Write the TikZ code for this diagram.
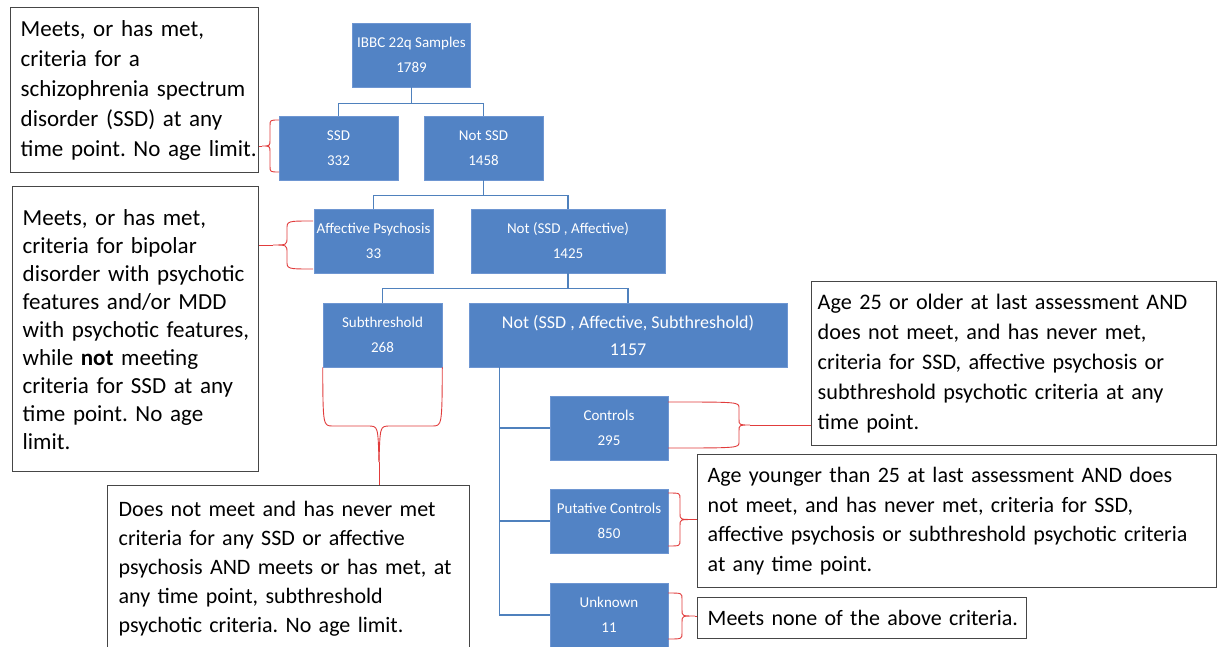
\documentclass[tikz,border=0pt]{standalone}
\usepackage{fontspec}
\usetikzlibrary{calc}
\setmainfont{Carlito}
\frenchspacing
\definecolor{boxblue}{RGB}{82,131,197}
\definecolor{boxedge}{RGB}{110,150,210}
\definecolor{lineblue}{RGB}{79,129,189}
\definecolor{bracered}{RGB}{225,60,60}
\definecolor{notegray}{RGB}{70,70,70}
\newcommand{\vbr}[7]{%
  \draw[redline] (#1,#2) .. controls (#4,#2) .. (#4,{#2+#6})
   -- (#4,{(#2+#3)/2-#6}) .. controls (#4,{(#2+#3)/2}) .. (#5,{(#2+#3)/2}) coordinate (#7)
   .. controls (#4,{(#2+#3)/2}) .. (#4,{(#2+#3)/2+#6})
   -- (#4,{#3-#6}) .. controls (#4,#3) .. (#1,#3);}
\newcommand{\tl}[1]{\mbox{#1}}
\begin{document}
\begin{tikzpicture}[x=1pt,y=-1pt,
  bbox/.style={fill=boxblue, draw=boxedge, line width=0.6pt, text=white,
    font=\fontsize{15}{25}\selectfont, align=center, inner sep=0pt,
    minimum height=64pt},
  tline/.style={draw=lineblue, line width=1.5pt},
  redline/.style={draw=bracered, line width=0.9pt},
  note/.style={draw=notegray, line width=1.4pt, fill=white, anchor=north west,
    align=left, inner ysep=0pt, inner xsep=10pt,
    font=\fontsize{23}{30}\selectfont}]
\fill[white] (0,0) rectangle (1217,647);
\useasboundingbox (0,0) rectangle (1217,647);

% blue boxes
\node[bbox, minimum width=118pt] (ibbc) at (411.5,55) {IBBC 22q Samples\\1789};
\node[bbox, minimum width=119pt] (ssd) at (338.5,148) {SSD\\332};
\node[bbox, minimum width=119pt] (notssd) at (483.5,148) {Not SSD\\1458};
\node[bbox, minimum width=119pt] (aff) at (373.5,241) {Affective Psychosis\\33};
\node[bbox, minimum width=194pt] (notaff) at (568,241) {Not (SSD , Affective)\\1425};
\node[bbox, minimum width=119pt] (sub) at (382.5,335) {Subthreshold\\268};
\node[bbox, minimum width=318pt, font=\fontsize{18}{27}\selectfont] (notsub) at (628,335) {Not (SSD , Affective, Subthreshold)\\1157};
\node[bbox, minimum width=118pt] (ctl) at (609,428) {Controls\\295};
\node[bbox, minimum width=118pt] (put) at (609,521) {Putative Controls\\850};
\node[bbox, minimum width=118pt] (unk) at (609,615) {Unknown\\11};

% tree connectors
\draw[tline] (ibbc.south) -- ++(0,16) coordinate (j1);
\draw[tline] (j1) -| (ssd.north);
\draw[tline] (j1) -| (notssd.north);
\draw[tline] (notssd.south) -- ++(0,15) coordinate (j2);
\draw[tline] (j2) -| (aff.north);
\draw[tline] (j2) -| (notaff.north);
\draw[tline] (notaff.south) -- ++(0,15) coordinate (j3);
\draw[tline] (j3) -| (sub.north);
\draw[tline] (j3) -| (notsub.north);
\coordinate (trunk) at ($(notsub.south west)+(31,0)$);
\draw[tline] (trunk) |- (unk.west);
\draw[tline] (trunk |- ctl.west) -- (ctl.west);
\draw[tline] (trunk |- put.west) -- (put.west);

% note boxes
\node[note, minimum width=248pt, minimum height=165pt, text width=228pt] (n1) at (10,7)
 {\tl{Meets, or has met,}\\\tl{criteria for a}\\\tl{schizophrenia spectrum}\\\tl{disorder (SSD) at any}\\\tl{time point. No age limit.}};
\node[note, minimum width=246pt, minimum height=285pt, text width=226pt, font=\fontsize{23}{28}\selectfont] (n2) at (12,186)
 {\tl{Meets, or has met,}\\\tl{criteria for bipolar}\\\tl{disorder with psychotic}\\\tl{features and/or MDD}\\\tl{with psychotic features,}\\\tl{while \textbf{not} meeting}\\\tl{criteria for SSD at any}\\\tl{time point. No age}\\\tl{limit.}};
\node[note, minimum width=362pt, minimum height=167pt, text width=340pt, inner xsep=11pt, font=\fontsize{22}{29}\selectfont] (n3) at (107,485)
 {\tl{Does not meet and has never met}\\\tl{criteria for any SSD or affective}\\\tl{psychosis AND meets or has met, at}\\\tl{any time point, subthreshold}\\\tl{psychotic criteria. No age limit.}};
\node[note, minimum width=405pt, minimum height=164pt, text width=393pt, inner xsep=6pt, font=\fontsize{22.2}{30}\selectfont] (n4) at (811,281)
 {\tl{Age 25 or older at last assessment AND}\\\tl{does not meet, and has never met,}\\\tl{criteria for SSD, affective psychosis or}\\\tl{subthreshold psychotic criteria at any}\\\tl{time point.}};
\node[note, minimum width=519pt, minimum height=133pt, text width=499pt, font=\fontsize{22}{29.7}\selectfont] (n5) at (697,454)
 {\tl{Age younger than 25 at last assessment AND does}\\\tl{not meet, and has never met, criteria for SSD,}\\\tl{affective psychosis or subthreshold psychotic criteria}\\\tl{at any time point.}};
\node[note, minimum width=329pt, minimum height=41pt, text width=309pt, font=\fontsize{22}{29}\selectfont] (n6) at (697,597)
 {\tl{Meets none of the above criteria.}};

% red braces
\vbr{279}{120}{172}{270}{262}{6}{c1}
\draw[redline] (c1) -- (n1.east |- c1);
\vbr{313}{221}{269}{287}{273}{8}{c2}
\draw[redline] (c2) -- (n2.east |- c2);
\vbr{668}{402}{448}{739}{750}{6}{c4}
\draw[redline] (c4) -- (n4.west |- c4);
\vbr{668}{493}{546}{680}{694}{6}{c5}
\draw[redline] (c5) -- (n5.west |- c5);
\vbr{668}{593}{639}{682}{695}{6}{c6}
\draw[redline] (c6) -- (n6.west |- c6);
% subthreshold brace (downward)
\draw[redline] (sub.south west) .. controls (323,426) .. (333,426) -- (368,426)
  .. controls (378,426) .. (379,462) coordinate (c3);
\draw[redline] (sub.south east) .. controls (442,426) .. (432,426) -- (390,426)
  .. controls (380,426) .. (c3);
\draw[redline] (c3) -- (n3.north -| c3);
\end{tikzpicture}
\end{document}
